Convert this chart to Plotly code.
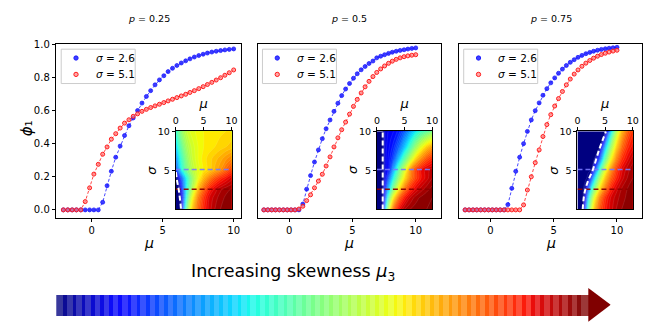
import numpy as np
import plotly.graph_objects as go

W, H = 669, 323
FONT = "DejaVu Sans"

# ---------------- data ----------------
mu = [-2.0, -1.69, -1.38, -1.08, -0.77, -0.46, -0.15, 0.15, 0.46, 0.77,
      1.08, 1.38, 1.69, 2.0, 2.31, 2.62, 2.92, 3.23, 3.54, 3.85,
      4.15, 4.46, 4.77, 5.08, 5.38, 5.69, 6.0, 6.31, 6.62, 6.92,
      7.23, 7.54, 7.85, 8.15, 8.46, 8.77, 9.08, 9.38, 9.69, 10.0]

p_labels = ["0.25", "0.5", "0.75"]
sigma_values = [2.6, 5.1]

p25_s26 = [0, 0, 0, 0, 0, 0, 0, 0, 0, 0.046,
           0.146, 0.233, 0.318, 0.385, 0.449, 0.508, 0.555, 0.60, 0.645, 0.685,
           0.72, 0.755, 0.785, 0.81, 0.835, 0.855, 0.872, 0.887, 0.90, 0.912,
           0.923, 0.932, 0.94, 0.947, 0.953, 0.958, 0.962, 0.966, 0.969, 0.972]
p25_s51 = [0, 0, 0, 0, 0, 0.05, 0.133, 0.216, 0.275, 0.336,
           0.38, 0.427, 0.46, 0.494, 0.524, 0.544, 0.565, 0.58, 0.595, 0.607,
           0.618, 0.628, 0.638, 0.648, 0.658, 0.668, 0.678, 0.688, 0.698, 0.709,
           0.72, 0.732, 0.744, 0.757, 0.77, 0.784, 0.798, 0.813, 0.828, 0.845]
p50_s26 = [0, 0, 0, 0, 0, 0, 0, 0, 0, 0,
           0.035, 0.125, 0.207, 0.289, 0.362, 0.43, 0.49, 0.543, 0.595, 0.644,
           0.69, 0.73, 0.763, 0.795, 0.822, 0.846, 0.866, 0.884, 0.899, 0.918,
           0.928, 0.937, 0.945, 0.952, 0.958, 0.963, 0.967, 0.971, 0.975, 0.978]
p50_s51 = [0, 0, 0, 0, 0, 0, 0, 0, 0, 0.005,
           0.022, 0.056, 0.091, 0.133, 0.174, 0.215, 0.265, 0.32, 0.38, 0.435,
           0.484, 0.53, 0.578, 0.625, 0.667, 0.706, 0.743, 0.776, 0.805, 0.83,
           0.851, 0.869, 0.885, 0.898, 0.909, 0.918, 0.925, 0.93, 0.934, 0.937]
p75_s26 = [0, 0, 0, 0, 0, 0, 0, 0, 0, 0,
           0, 0.032, 0.13, 0.233, 0.318, 0.40, 0.474, 0.543, 0.599, 0.646,
           0.692, 0.732, 0.767, 0.797, 0.825, 0.85, 0.872, 0.891, 0.907, 0.921,
           0.933, 0.943, 0.951, 0.958, 0.964, 0.969, 0.973, 0.976, 0.979, 0.982]
p75_s51 = [0, 0, 0, 0, 0, 0, 0, 0, 0, 0,
           0, 0, 0, 0, 0, 0.03, 0.12, 0.2, 0.285, 0.362,
           0.443, 0.515, 0.575, 0.627, 0.672, 0.715, 0.755, 0.79, 0.82, 0.845,
           0.867, 0.886, 0.902, 0.916, 0.928, 0.938, 0.946, 0.953, 0.959, 0.964]

# inset grids (phi_1 over mu, sigma)
hm_mu = [0, 0.5, 1, 1.5, 2, 2.5, 3, 4, 5, 6, 7, 8, 9, 10]
hm_sigma = [0, 1.5, 2.6, 4, 5.1, 6.5, 8, 10]

hm_p25 = [
    [0, 0, 0, 0.3, 0.5, 0.62, 0.7, 0.8, 0.87, 0.92, 0.95, 0.97, 0.98, 0.99],
    [0, 0, 0.07, 0.25, 0.42, 0.55, 0.64, 0.77, 0.85, 0.91, 0.94, 0.96, 0.975, 0.98],
    [0, 0, 0.12, 0.26, 0.39, 0.49, 0.57, 0.71, 0.80, 0.87, 0.915, 0.945, 0.962, 0.972],
    [0, 0.08, 0.2, 0.3, 0.39, 0.47, 0.53, 0.63, 0.71, 0.77, 0.82, 0.86, 0.89, 0.92],
    [0.17, 0.28, 0.37, 0.44, 0.494, 0.535, 0.57, 0.62, 0.655, 0.68, 0.715, 0.75, 0.795, 0.845],
    [0.25, 0.34, 0.41, 0.47, 0.52, 0.56, 0.59, 0.63, 0.66, 0.68, 0.7, 0.72, 0.745, 0.77],
    [0.32, 0.4, 0.46, 0.51, 0.55, 0.58, 0.6, 0.63, 0.65, 0.66, 0.67, 0.68, 0.69, 0.7],
    [0.4, 0.47, 0.52, 0.56, 0.59, 0.61, 0.62, 0.64, 0.65, 0.655, 0.66, 0.665, 0.67, 0.675],
]
hm_p50 = [
    [0, 0, 0, 0.3, 0.55, 0.7, 0.8, 0.9, 0.95, 0.97, 0.98, 0.99, 0.99, 0.995],
    [0, 0, 0, 0.2, 0.4, 0.55, 0.66, 0.8, 0.88, 0.93, 0.96, 0.975, 0.985, 0.99],
    [0, 0, 0, 0.16, 0.29, 0.40, 0.51, 0.665, 0.785, 0.862, 0.91, 0.94, 0.962, 0.978],
    [0, 0, 0, 0.11, 0.2, 0.29, 0.38, 0.54, 0.67, 0.77, 0.84, 0.89, 0.92, 0.95],
    [0, 0, 0, 0.1, 0.13, 0.195, 0.29, 0.46, 0.6, 0.745, 0.835, 0.89, 0.922, 0.937],
    [0, 0, 0, 0.1, 0.13, 0.16, 0.2, 0.32, 0.45, 0.57, 0.68, 0.76, 0.82, 0.86],
    [0, 0, 0, 0.1, 0.12, 0.14, 0.16, 0.23, 0.32, 0.42, 0.53, 0.62, 0.69, 0.74],
    [0, 0, 0, 0.1, 0.11, 0.12, 0.13, 0.16, 0.22, 0.29, 0.36, 0.42, 0.46, 0.5],
]
hm_p75 = [
    [0, 0, 0, 0.25, 0.45, 0.6, 0.7, 0.82, 0.88, 0.92, 0.95, 0.97, 0.98, 0.99],
    [0, 0, 0, 0.15, 0.35, 0.5, 0.62, 0.77, 0.86, 0.91, 0.94, 0.96, 0.975, 0.985],
    [0, 0, 0, 0.07, 0.233, 0.38, 0.49, 0.67, 0.787, 0.87, 0.92, 0.952, 0.97, 0.982],
    [0, 0, 0, 0, 0.03, 0.18, 0.32, 0.55, 0.7, 0.8, 0.87, 0.92, 0.95, 0.97],
    [0, 0, 0, 0, 0, 0, 0.14, 0.40, 0.61, 0.745, 0.84, 0.903, 0.94, 0.964],
    [0, 0, 0, 0, 0, 0, 0, 0.2, 0.45, 0.63, 0.76, 0.85, 0.9, 0.94],
    [0, 0, 0, 0, 0, 0, 0, 0, 0.3, 0.52, 0.68, 0.79, 0.86, 0.9],
    [0, 0, 0, 0, 0, 0, 0, 0, 0, 0.32, 0.56, 0.71, 0.8, 0.86],
]

# phi_1 = 0 boundary (white dashed curve) in each inset
wb_p25_mu = [0.95, 0.8, 0.6, 0.4, 0.2, 0.05]
wb_p25_sigma = [0.1, 1.2, 2.3, 3.1, 3.9, 4.8]
wb_p50_mu = [1.05, 1.05]
wb_p50_sigma = [0, 10]
wb_p75_mu = [0.95, 1.1, 1.43, 2.0, 2.75, 3.9, 5.15]
wb_p75_sigma = [0, 1.3, 2.6, 3.8, 5.0, 7.6, 10]

arrow_stripes = 58

# ---------------- helpers ----------------
def jet_rgb(v):
    r = np.interp(v, [0, 0.35, 0.66, 0.89, 1], [0, 0, 1, 1, 0.5])
    g = np.interp(v, [0, 0.125, 0.375, 0.64, 0.91, 1], [0, 0, 1, 1, 0, 0])
    b = np.interp(v, [0, 0.11, 0.34, 0.65, 1], [0.5, 1, 1, 0, 0])
    return int(round(r * 255)), int(round(g * 255)), int(round(b * 255))

jet_scale = [[float(v), "rgb(%d,%d,%d)" % jet_rgb(v)] for v in np.linspace(0, 1, 51)]

def fx(p):
    return p / W

def fy(p):
    return 1 - p / H

fig = go.Figure()

panels = [
    dict(s26=p25_s26, s51=p25_s51, hm=hm_p25, wbx=wb_p25_mu, wby=wb_p25_sigma,
         main=(54, 241), inset=(175, 231.7), xr=[-2.5, 10.5]),
    dict(s26=p50_s26, s51=p50_s51, hm=hm_p50, wbx=wb_p50_mu, wby=wb_p50_sigma,
         main=(258, 444), inset=(379, 435), xr=[-2.5, 12.0]),
    dict(s26=p75_s26, s51=p75_s51, hm=hm_p75, wbx=wb_p75_mu, wby=wb_p75_sigma,
         main=(462, 648), inset=(582.3, 638.3), xr=[-2.5, 12.0]),
]
MAIN_Y = (39, 216)
INSET_Y = (127.7, 207.3)

BLUE_LINE = "rgba(40,40,255,0.85)"
RED_LINE = "rgba(255,40,40,0.85)"
BLUE_FILL, BLUE_EDGE = "rgba(30,30,255,0.85)", "rgba(20,20,255,0.9)"
RED_FILL, RED_EDGE = "rgba(255,130,130,0.7)", "rgba(255,20,20,0.95)"

axis_common = dict(showgrid=False, zeroline=False, showline=True, mirror=True,
                   linecolor="black", linewidth=1, ticks="outside", ticklen=3.5,
                   tickwidth=1, tickcolor="black",
                   tickfont=dict(family=FONT, size=10, color="black"))

annotations = []
shapes = []
for k, pn in enumerate(panels):
    m = 2 * k + 1
    ins = 2 * k + 2
    mx, my = ("x" if m == 1 else "x%d" % m), ("y" if m == 1 else "y%d" % m)
    ix, iy = "x%d" % ins, "y%d" % ins

    # connecting dashed lines
    fig.add_trace(go.Scatter(x=mu, y=pn["s26"], mode="lines", xaxis=mx, yaxis=my,
                             line=dict(color=BLUE_LINE, width=1, dash="3px,2px"),
                             showlegend=False, hoverinfo="skip"))
    fig.add_trace(go.Scatter(x=mu, y=pn["s51"], mode="lines", xaxis=mx, yaxis=my,
                             line=dict(color=RED_LINE, width=1, dash="3px,2px"),
                             showlegend=False, hoverinfo="skip"))
    # markers
    fig.add_trace(go.Scatter(x=mu, y=pn["s26"], mode="markers", xaxis=mx, yaxis=my,
                             name="σ = %.1f" % sigma_values[0], showlegend=False,
                             marker=dict(size=4, color=BLUE_FILL,
                                         line=dict(color=BLUE_EDGE, width=0.8))))
    fig.add_trace(go.Scatter(x=mu, y=pn["s51"], mode="markers", xaxis=mx, yaxis=my,
                             name="σ = %.1f" % sigma_values[1], showlegend=False,
                             marker=dict(size=4, color=RED_FILL,
                                         line=dict(color=RED_EDGE, width=1))))

    # inset contour map
    fig.add_trace(go.Contour(x=hm_mu, y=hm_sigma, z=pn["hm"], xaxis=ix, yaxis=iy,
                             colorscale=jet_scale, zauto=False, zmin=0, zmax=1,
                             autocontour=False,
                             contours=dict(start=0.01, end=1.0, size=0.02, coloring="fill",
                                           showlines=True),
                             line=dict(color="rgba(255,255,255,0.2)", width=0.5, smoothing=1),
                             showscale=False, hoverinfo="skip"))
    fig.add_trace(go.Scatter(x=[0, 10], y=[sigma_values[1]] * 2, mode="lines",
                             xaxis=ix, yaxis=iy, showlegend=False, hoverinfo="skip",
                             line=dict(color="rgba(120,120,255,0.9)", width=1.5, dash="5px,3px")))
    fig.add_trace(go.Scatter(x=[0, 10], y=[sigma_values[0]] * 2, mode="lines",
                             xaxis=ix, yaxis=iy, showlegend=False, hoverinfo="skip",
                             line=dict(color="rgba(140,0,0,0.95)", width=1.5, dash="5px,3px")))
    fig.add_trace(go.Scatter(x=pn["wbx"], y=pn["wby"], mode="lines",
                             xaxis=ix, yaxis=iy, showlegend=False, hoverinfo="skip",
                             line=dict(color="white", width=2, dash="5px,3px", shape="spline")))

    # axes
    xa = dict(axis_common, domain=[fx(pn["main"][0]), fx(pn["main"][1])], range=pn["xr"],
              tickvals=[0, 5, 10], anchor=my)
    ya = dict(axis_common, domain=[fy(MAIN_Y[1]), fy(MAIN_Y[0])], range=[-0.049, 1.0],
              anchor=mx)
    if k == 0:
        ya.update(tickvals=[0, 0.2, 0.4, 0.6, 0.8, 1.0],
                  ticktext=["0.0", "0.2", "0.4", "0.6", "0.8", "1.0"])
    else:
        ya.update(showticklabels=False, ticks="")
    ixa = dict(axis_common, domain=[fx(pn["inset"][0]), fx(pn["inset"][1])], range=[0, 10],
               tickvals=[0, 5, 10], side="top", anchor=iy, ticklen=3,
               tickfont=dict(family=FONT, size=9.5, color="black"),
               title=dict(text="<i>μ</i>", font=dict(family=FONT, size=13, color="black"),
                          standoff=2))
    iya = dict(axis_common, domain=[fy(INSET_Y[1]), fy(INSET_Y[0])], range=[0, 10],
               tickvals=[5, 10], anchor=ix, ticklen=3,
               tickfont=dict(family=FONT, size=9.5, color="black"))
    fig.layout["xaxis" if m == 1 else "xaxis%d" % m] = xa
    fig.layout["yaxis" if m == 1 else "yaxis%d" % m] = ya
    fig.layout["xaxis%d" % ins] = ixa
    fig.layout["yaxis%d" % ins] = iya

    # axis titles placed like the reference
    annotations.append(dict(x=fx((pn["main"][0] + pn["main"][1]) / 2), y=fy(232),
                            xref="paper", yref="paper", showarrow=False,
                            xanchor="center", yanchor="top", text="<i>μ</i>", borderpad=0,
                            font=dict(family=FONT, size=14, color="black")))
    annotations.append(dict(x=fx(pn["inset"][0] - 24), y=fy(167), xref="paper", yref="paper",
                            showarrow=False, xanchor="center", yanchor="middle",
                            text="<i>σ</i>", textangle=-90,
                            font=dict(family=FONT, size=13, color="black")))

    # panel title
    annotations.append(dict(x=fx((pn["main"][0] + pn["main"][1]) / 2), y=fy(12.5),
                            xref="paper", yref="paper", showarrow=False,
                            xanchor="center", yanchor="middle",
                            text="<i>p</i> = " + p_labels[k],
                            font=dict(family=FONT, size=9.5, color="black")))

    # legend (box, keys, labels)
    L = pn["main"][0] + 5
    shapes.append(dict(type="rect", xref="paper", yref="paper",
                       x0=fx(L), x1=fx(L + 75), y0=fy(79), y1=fy(44),
                       fillcolor="rgba(255,255,255,0.85)",
                       line=dict(color="#cccccc", width=1), layer="above"))
    for j, (fc, ec) in enumerate([(BLUE_FILL, BLUE_EDGE), (RED_FILL, RED_EDGE)]):
        cy = 53 + j * 16.7
        shapes.append(dict(type="circle", xref="paper", yref="paper",
                           x0=fx(L + 15 - 2.2), x1=fx(L + 15 + 2.2),
                           y0=fy(cy + 2.2), y1=fy(cy - 2.2),
                           fillcolor=fc, line=dict(color=ec, width=1), layer="above"))
        annotations.append(dict(x=fx(L + 33), y=fy(cy), xref="paper", yref="paper",
                                showarrow=False, xanchor="left", yanchor="middle",
                                text="<i>σ</i> = %.1f" % sigma_values[j],
                                font=dict(family=FONT, size=10.5, color="black")))

# y-axis title of the first panel
annotations.append(dict(x=fx(24), y=fy(125), xref="paper", yref="paper", showarrow=False,
                        xanchor="center", yanchor="middle", textangle=-90,
                        text="<i>ϕ</i>₁",
                        font=dict(family=FONT, size=15, color="black")))

# ---------------- bottom arrow ----------------
cols = []
for i in range(arrow_stripes):
    r, g, b = jet_rgb(i / (arrow_stripes - 1))
    cols.append("rgba(%d,%d,%d,0.78)" % (r, g, b))
fig.add_trace(go.Bar(x=[i + 0.5 for i in range(arrow_stripes)], y=[0.62] * arrow_stripes,
                     base=0.18, width=1.4, marker=dict(color=cols, line=dict(width=0)),
                     xaxis="x7", yaxis="y7", showlegend=False, hoverinfo="skip"))
head_len = arrow_stripes * (616 - 593.3) / (593.3 - 54)
fig.add_trace(go.Scatter(x=[arrow_stripes, arrow_stripes + head_len, arrow_stripes, arrow_stripes],
                         y=[0.01, 0.505, 0.99, 0.01], mode="lines", fill="toself",
                         fillcolor="#800000", line=dict(width=0, color="#800000"),
                         xaxis="x7", yaxis="y7", showlegend=False, hoverinfo="skip"))
fig.layout["xaxis7"] = dict(domain=[fx(54), fx(616)], range=[0, arrow_stripes + head_len],
                            visible=False, anchor="y7", fixedrange=True)
fig.layout["yaxis7"] = dict(domain=[fy(322), fy(287)], range=[0, 1], visible=False,
                            anchor="x7", fixedrange=True)

annotations.append(dict(x=fx(189), y=fy(272), xref="paper", yref="paper", showarrow=False,
                        xanchor="left", yanchor="middle",
                        text="Increasing skewness <i>μ</i><sub>3</sub>",
                        font=dict(family=FONT, size=17.5, color="black")))

fig.update_layout(width=W, height=H, autosize=False, showlegend=False,
                  margin=dict(l=0, r=0, t=0, b=0, pad=0),
                  paper_bgcolor="white", plot_bgcolor="white",
                  annotations=annotations, shapes=shapes, bargap=0,
                  font=dict(family=FONT, color="black"))

fig.write_html("out.html", config={"displayModeBar": False},
               post_script="document.body.style.margin='0px';document.body.style.overflow='hidden';")
